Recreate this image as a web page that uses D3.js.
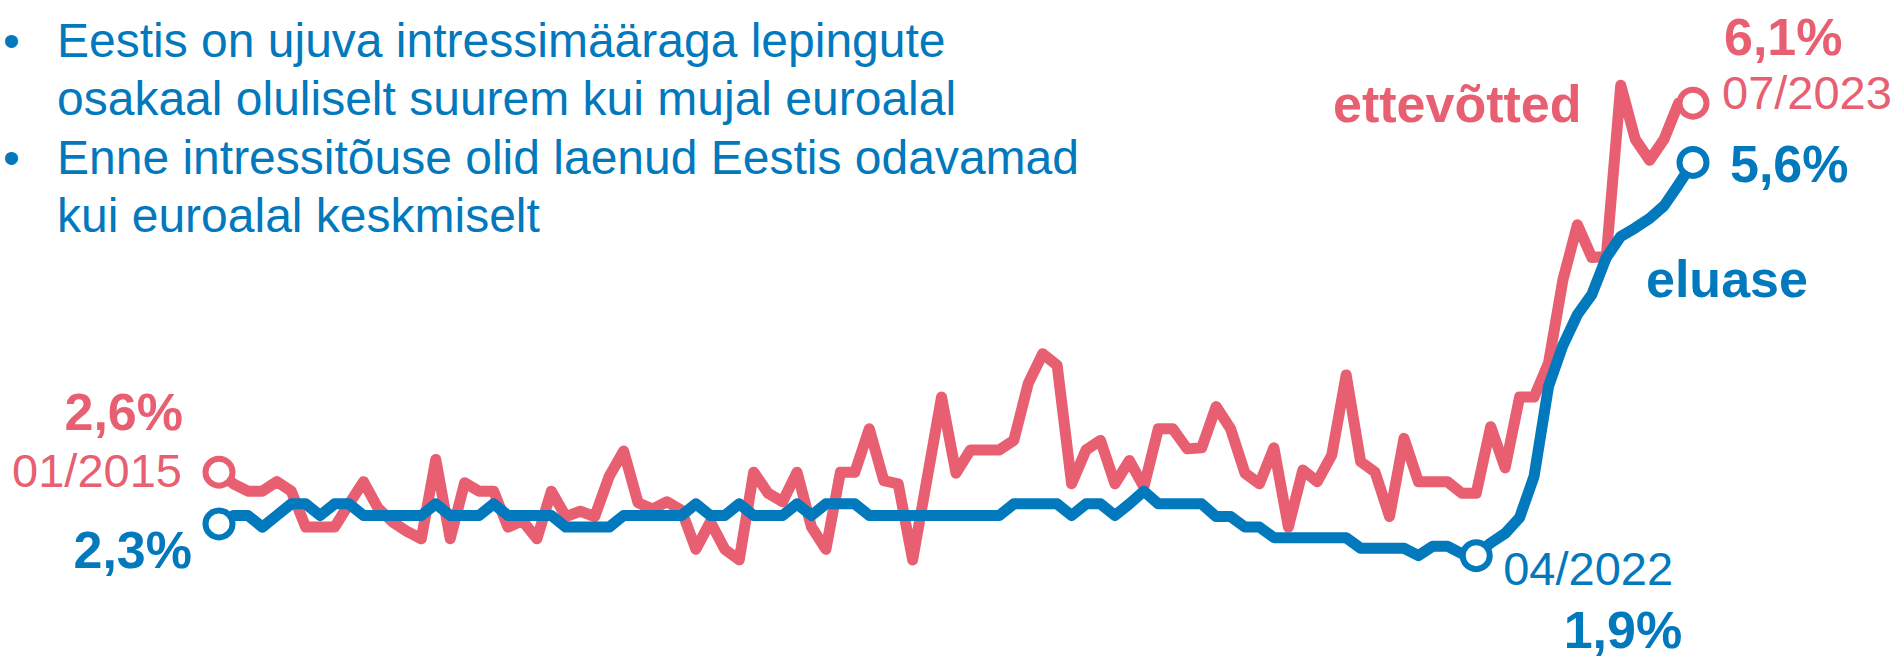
<!DOCTYPE html>
<html>
<head>
<meta charset="utf-8">
<script src="https://cdn.jsdelivr.net/npm/d3@7"></script>
<style>
    body { margin: 0; background: #fff; }
    text { font-family: "Liberation Sans", Arial, sans-serif; }
</style>
</head>
<body>
<script>
//monthly rates, 01/2015 - 07/2023 (%)
var months = d3.timeMonth.range(new Date(2015, 0, 1), new Date(2023, 7, 1)).map(d3.timeFormat("%m/%Y"));

//ettevõtted (red)
var business = [
    2.60, 2.49, 2.42, 2.42, 2.51, 2.42, 2.08, 2.08, 2.08, 2.30,
    2.51, 2.26, 2.13, 2.04, 1.97, 2.72, 1.97, 2.50, 2.42, 2.42,
    2.08, 2.14, 1.97, 2.42, 2.18, 2.23, 2.18, 2.56, 2.80, 2.31,
    2.25, 2.32, 2.24, 1.87, 2.13, 1.87, 1.77, 2.60, 2.40, 2.32,
    2.60, 2.08, 1.87, 2.60, 2.60, 3.01, 2.52, 2.49, 1.77, 2.54,
    3.31, 2.59, 2.81, 2.81, 2.81, 2.90, 3.44, 3.72, 3.61, 2.49,
    2.81, 2.90, 2.49, 2.71, 2.46, 3.01, 3.01, 2.82, 2.83, 3.22,
    3.01, 2.59, 2.49, 2.83, 2.08, 2.62, 2.51, 2.76, 3.52, 2.70,
    2.60, 2.18, 2.92, 2.51, 2.51, 2.51, 2.40, 2.40, 3.03, 2.64,
    3.31, 3.31, 3.63, 4.42, 4.94, 4.63, 4.64, 6.26, 5.75, 5.55,
    5.75, 6.09, 6.09
];

//eluase (blue)
var housing = [
    2.11, 2.19, 2.19, 2.08, 2.19, 2.30, 2.30, 2.19, 2.30, 2.30,
    2.19, 2.19, 2.19, 2.19, 2.19, 2.30, 2.19, 2.19, 2.19, 2.30,
    2.19, 2.19, 2.19, 2.19, 2.08, 2.08, 2.08, 2.08, 2.19, 2.19,
    2.19, 2.19, 2.19, 2.30, 2.19, 2.19, 2.30, 2.19, 2.19, 2.19,
    2.30, 2.19, 2.30, 2.30, 2.30, 2.19, 2.19, 2.19, 2.19, 2.19,
    2.19, 2.19, 2.19, 2.19, 2.19, 2.30, 2.30, 2.30, 2.30, 2.19,
    2.30, 2.30, 2.19, 2.30, 2.42, 2.30, 2.30, 2.30, 2.30, 2.18,
    2.18, 2.08, 2.08, 1.98, 1.98, 1.98, 1.98, 1.98, 1.98, 1.88,
    1.88, 1.88, 1.88, 1.81, 1.90, 1.90, 1.83, 1.81, 1.93, 2.02,
    2.17, 2.56, 3.41, 3.80, 4.09, 4.28, 4.63, 4.83, 4.91, 5.00,
    5.12, 5.32, 5.53
];

var bullets = [
    ["Eestis on ujuva intressimääraga lepingute", "osakaal oluliselt suurem kui mujal euroalal"],
    ["Enne intressitõuse olid laenud Eestis odavamad", "kui euroalal keskmiselt"]
];

var red = "#e75f70", blue = "#0278bd";

window.onload = function(){
    var w = 1904, h = 662;
    var svg = d3.select("body")
        .append("svg")
        .attr("width", w)
        .attr("height", h)
        .attr("class", "container");

    /**** scales ****/
    var x = d3.scalePoint()
        .domain(months)
        .range([219, 1693]);

    var y = d3.scaleLinear()
        .domain([0, 7])
        .range([747, 7]);

    /**** bullet text ****/
    var lineNo = 0;
    bullets.forEach(function(b){
        svg.append("text")
            .attr("x", 3)
            .attr("y", 57 + lineNo * 58.3)
            .style("font-size", "48px")
            .style("fill", blue)
            .text("•");
        b.forEach(function(t){
            svg.append("text")
                .attr("class", "bullet")
                .attr("x", 57)
                .attr("y", 57 + lineNo * 58.3)
                .style("font-size", "48px")
                .style("fill", blue)
                .text(t);
            lineNo++;
        });
    });

    /**** lines ****/
    var line = d3.line()
        .x(function(d, i){ return x(months[i]); })
        .y(function(d){ return y(d); });

    svg.append("path")
        .datum(business)
        .attr("class", "business")
        .attr("d", line)
        .style("fill", "none")
        .style("stroke", red)
        .style("stroke-width", 11)
        .style("stroke-linejoin", "round");

    svg.append("path")
        .datum(housing)
        .attr("class", "housing")
        .attr("d", line)
        .style("fill", "none")
        .style("stroke", blue)
        .style("stroke-width", 11)
        .style("stroke-linejoin", "round");

    /**** end point markers ****/
    var last = months.length - 1;
    var trough = months.indexOf("04/2022");
    var markers = [
        {i: 0, v: business[0], c: red},
        {i: last, v: business[last], c: red},
        {i: 0, v: housing[0], c: blue},
        {i: trough, v: housing[trough], c: blue},
        {i: last, v: housing[last], c: blue}
    ];
    svg.selectAll(".marker")
        .data(markers)
        .enter()
        .append("circle")
        .attr("class", "marker")
        .attr("cx", function(d){ return x(months[d.i]); })
        .attr("cy", function(d){ return y(d.v); })
        .attr("r", 13.5)
        .style("fill", "#fff")
        .style("stroke", function(d){ return d.c; })
        .style("stroke-width", 6);

    /**** labels ****/
    function label(tx, ty, str, col, bold, anchor){
        svg.append("text")
            .attr("x", tx)
            .attr("y", ty)
            .attr("text-anchor", anchor)
            .style("font-size", bold ? "52px" : "47px")
            .style("font-weight", bold ? "bold" : "normal")
            .style("fill", col)
            .text(str);
    }
    var x0 = x(months[0]), xt = x(months[trough]), xl = x(months[last]);
    label(x0 - 36, 430, "2,6%", red, true, "end");
    label(x0 - 37, 487, months[0], red, false, "end");
    label(x0 - 27, 568, "2,3%", blue, true, "end");
    label(xt + 27, 585, months[trough], blue, false, "start");
    label(xt + 206, 648, "1,9%", blue, true, "end");
    label(xl + 31, 55, "6,1%", red, true, "start");
    label(xl + 29, 109, months[last], red, false, "start");
    label(xl + 37, 182, "5,6%", blue, true, "start");
    label(1333, 122, "ettevõtted", red, true, "start");
    label(1646, 297, "eluase", blue, true, "start");
};
</script>
</body>
</html>
